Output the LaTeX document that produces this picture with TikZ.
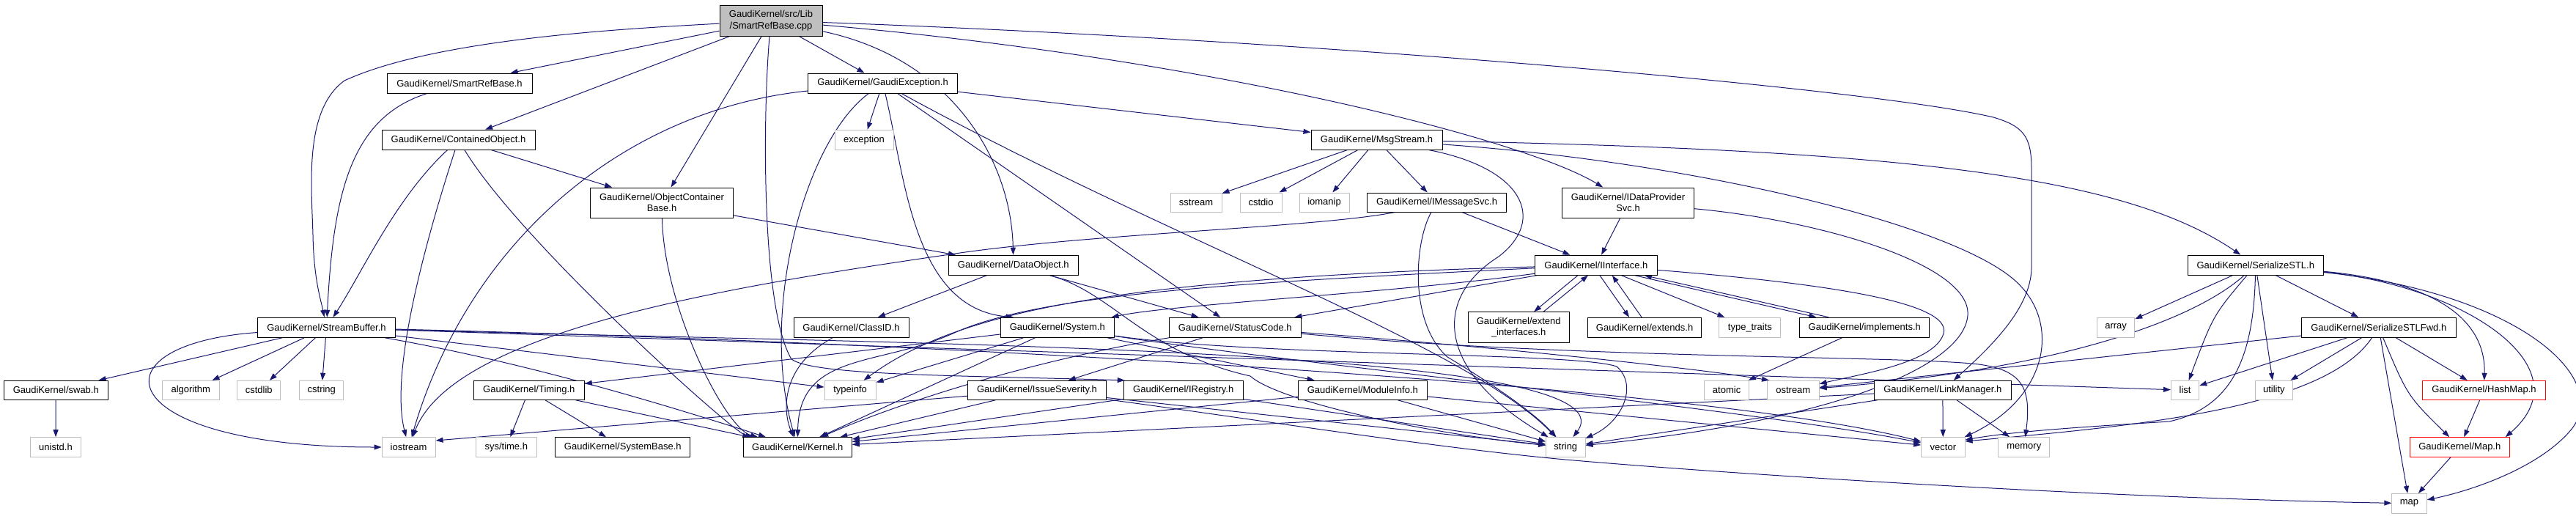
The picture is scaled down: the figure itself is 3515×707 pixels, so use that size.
\documentclass[tikz,border=0pt]{standalone}
\usepackage{fontspec}
\setmainfont{Liberation Sans}
\usetikzlibrary{arrows.meta}
\definecolor{edgec}{HTML}{191970}
\definecolor{extc}{HTML}{BFBFBF}
\pgfdeclarelayer{bg}
\pgfsetlayers{bg,main}
\begin{document}
\begin{tikzpicture}[x=1pt,y=-1pt,
  nd/.style={draw=black,fill=white,line width=1pt,inner sep=0pt,font=\fontsize{13}{15.5}\selectfont,align=center},
  extn/.style={nd,draw=extc},
  redn/.style={nd,draw=red},
  conn/.style={draw=edgec,line width=1pt,-{Triangle[length=10pt,width=7pt]}}]
\useasboundingbox (0,0) rectangle (3515,707);
% ---------------- nodes ----------------
\node[nd,fill=extc,minimum width=140pt,minimum height=42pt] (root) at (1052,28) {GaudiKernel/src/Lib\\/SmartRefBase.cpp};
\node[nd,minimum width=198pt,minimum height=27pt] (srb) at (627,113.5) {GaudiKernel/SmartRefBase.h};
\node[nd,minimum width=204pt,minimum height=27pt] (ge) at (1204.5,113.5) {GaudiKernel/GaudiException.h};
\node[nd,minimum width=209pt,minimum height=27pt] (co) at (625.5,190.7) {GaudiKernel/ContainedObject.h};
\node[extn,minimum width=80pt,minimum height=27pt] (exc) at (1179,190.7) {exception};
\node[nd,minimum width=179pt,minimum height=27pt] (ms) at (1878.5,190.7) {GaudiKernel/MsgStream.h};
\node[nd,minimum width=195pt,minimum height=41pt] (ocb) at (903,276.5) {GaudiKernel/ObjectContainer\\Base.h};
\node[extn,minimum width=70pt,minimum height=26pt] (sst) at (1632,276) {sstream};
\node[extn,minimum width=57pt,minimum height=26pt] (cstdio) at (1720.5,276) {cstdio};
\node[extn,minimum width=68pt,minimum height=26pt] (ioman) at (1807,276) {iomanip};
\node[nd,minimum width=190pt,minimum height=26pt] (ims) at (1960.6,276) {GaudiKernel/IMessageSvc.h};
\node[nd,minimum width=180pt,minimum height=41pt] (idp) at (2221.5,276.5) {GaudiKernel/IDataProvider\\Svc.h};
\node[nd,minimum width=177pt,minimum height=27pt] (dobj) at (1382.8,361.7) {GaudiKernel/DataObject.h};
\node[nd,minimum width=166.5pt,minimum height=27pt] (ii) at (2177.9,361.7) {GaudiKernel/IInterface.h};
\node[nd,minimum width=185pt,minimum height=27pt] (stl) at (3077.8,361.7) {GaudiKernel/SerializeSTL.h};
\node[nd,minimum width=188pt,minimum height=27pt] (sb) at (445.5,446.8) {GaudiKernel/StreamBuffer.h};
\node[nd,minimum width=157pt,minimum height=27pt] (cid) at (1161.5,446.8) {GaudiKernel/ClassID.h};
\node[nd,minimum width=154.4pt,minimum height=27pt] (sys) at (1442.8,446.8) {GaudiKernel/System.h};
\node[nd,minimum width=180pt,minimum height=27pt] (sc) at (1685.3,446.8) {GaudiKernel/StatusCode.h};
\node[nd,minimum width=137.7pt,minimum height=42.3pt] (ei) at (2072.2,446.8) {GaudiKernel/extend\\\_interfaces.h};
\node[nd,minimum width=155.5pt,minimum height=27pt] (extd) at (2244.1,446.8) {GaudiKernel/extends.h};
\node[extn,minimum width=84pt,minimum height=27pt] (tt) at (2387.9,446.8) {type\_traits};
\node[nd,minimum width=177pt,minimum height=27pt] (impl) at (2544.3,446.8) {GaudiKernel/implements.h};
\node[extn,minimum width=51.4pt,minimum height=27pt] (arr) at (2887.1,446.8) {array};
\node[nd,minimum width=210.7pt,minimum height=27pt] (fwd) at (3245.8,446.8) {GaudiKernel/SerializeSTLFwd.h};
\node[nd,minimum width=142.3pt,minimum height=26pt] (swab) at (76.3,532.3) {GaudiKernel/swab.h};
\node[extn,minimum width=77.4pt,minimum height=26pt] (alg) at (260.3,532.3) {algorithm};
\node[extn,minimum width=59.2pt,minimum height=26pt] (cstdlib) at (353.3,532.3) {cstdlib};
\node[extn,minimum width=60.3pt,minimum height=26pt] (cstring) at (438.8,532.3) {cstring};
\node[nd,minimum width=151pt,minimum height=26pt] (tim) at (721.8,532.3) {GaudiKernel/Timing.h};
\node[extn,minimum width=70pt,minimum height=26pt] (tinfo) at (1160.1,532.3) {typeinfo};
\node[nd,minimum width=189.5pt,minimum height=26pt] (isev) at (1415,532.3) {GaudiKernel/IssueSeverity.h};
\node[nd,minimum width=163pt,minimum height=26pt] (ireg) at (1614.7,532.3) {GaudiKernel/IRegistry.h};
\node[nd,minimum width=175.6pt,minimum height=26pt] (modi) at (1859.3,532.3) {GaudiKernel/ModuleInfo.h};
\node[extn,minimum width=61.4pt,minimum height=26pt] (atom) at (2356.1,532.3) {atomic};
\node[extn,minimum width=70.6pt,minimum height=26pt] (ost) at (2446.8,532.3) {ostream};
\node[nd,minimum width=187pt,minimum height=26pt] (lm) at (2650.8,532.3) {GaudiKernel/LinkManager.h};
\node[extn,minimum width=38.2pt,minimum height=26pt] (lst) at (2981.6,532.3) {list};
\node[extn,minimum width=51.4pt,minimum height=26pt] (util) at (3102.9,532.3) {utility};
\node[redn,minimum width=167.8pt,minimum height=26pt] (hm) at (3389.4,532.3) {GaudiKernel/HashMap.h};
\node[extn,minimum width=69.5pt,minimum height=26.6pt] (unistd) at (76,610) {unistd.h};
\node[extn,minimum width=73pt,minimum height=26.6pt] (ios) at (557.6,610) {iostream};
\node[extn,minimum width=83.3pt,minimum height=26.6pt] (systime) at (690.8,610) {sys/time.h};
\node[nd,minimum width=184.3pt,minimum height=26.6pt] (sysb) at (849.8,610) {GaudiKernel/SystemBase.h};
\node[nd,minimum width=148pt,minimum height=26.6pt] (kern) at (1088.3,610) {GaudiKernel/Kernel.h};
\node[extn,minimum width=53.4pt,minimum height=26.6pt] (str) at (2136.3,610) {string};
\node[extn,minimum width=59.4pt,minimum height=26.6pt] (vec) at (2651.4,610) {vector};
\node[extn,minimum width=70.2pt,minimum height=26.6pt] (mem) at (2761.8,610) {memory};
\node[redn,minimum width=135.8pt,minimum height=26.6pt] (mapr) at (3356.3,610) {GaudiKernel/Map.h};
\node[extn,minimum width=47.4pt,minimum height=26.6pt] (mapx) at (3287.5,686.7) {map};
% ---------------- edges ----------------
\begin{pgfonlayer}{bg}
% root
\draw[conn] (root) .. controls (880,38) and (600,50) .. (470,110) .. controls (415,150) and (425,250) .. (427,320) .. controls (428,380) and (438,410) .. (sb);
\draw[conn] (root) -- (srb);
\draw[conn] (root) -- (co);
\draw[conn] (root) -- (ocb);
\draw[conn] (root) -- (ge);
\draw[conn] (root) .. controls (1300,80) and (1380,220) .. (dobj);
\draw[conn] (root) .. controls (1041,150) and (1038,420) .. (1080,490) .. controls (1110,512) and (1300,512) .. ([xshift=2pt]ireg.north west);
\draw[conn] (root) .. controls (1650,80) and (2080,190) .. (idp);
\draw[conn] (root) .. controls (1800,55) and (2550,120) .. (2720,160) .. controls (2760,172) and (2772,185) .. (2772,230) -- (2772,367) .. controls (2770,420) and (2720,470) .. (lm);
% SmartRefBase / ContainedObject / ObjectContainerBase
\draw[conn] (srb) .. controls (480,160) and (455,260) .. (sb);
\draw[conn] (co) .. controls (540,270) and (495,370) .. (sb);
\draw[conn] (co) .. controls (590,300) and (530,500) .. (ios);
\draw[conn] (co) .. controls (710,330) and (1000,590) .. (kern);
\draw[conn] (co) -- (ocb);
\draw[conn] (ocb) -- (dobj);
\draw[conn] (ocb) .. controls (906,420) and (990,585) .. (kern);
% GaudiException
\draw[conn] (ge) .. controls (850,150) and (640,330) .. (ios);
\draw[conn] (ge) .. controls (1100,190) and (1035,420) .. (kern);
\draw[conn] (ge) -- (exc);
\draw[conn] (ge) .. controls (1235,240) and (1245,420) .. ([xshift=-60pt]sys.north);
\draw[conn] (ge) -- (sc);
\draw[conn] (ge) .. controls (1600,330) and (2000,470) .. (str);
\draw[conn] (ge) -- (ms);
% MsgStream
\draw[conn] (ms) -- (sst);
\draw[conn] (ms) -- (cstdio);
\draw[conn] (ms) -- (ioman);
\draw[conn] (ms) -- (ims);
\draw[conn] (ms) .. controls (2080,230) and (2110,300) .. (2045,350) .. controls (1950,410) and (1965,510) .. (str);
\draw[conn] (ms) .. controls (2600,205) and (2900,240) .. (stl);
\draw[conn] (ms) .. controls (2300,220) and (2640,300) .. (2740,375) .. controls (2815,430) and (2800,540) .. (vec);
% IMessageSvc / IDataProviderSvc
\draw[conn] (ims) -- (ii);
\draw[conn] ([xshift=-57pt]ims.south) .. controls (1800,310) and (1500,318) .. (1310,345) .. controls (1000,390) and (620,450) .. (ios);
\draw[conn] (ims) .. controls (1930,330) and (1922,440) .. (1975,487) .. controls (2030,520) and (2090,560) .. (str);
\draw[conn] (idp) -- (ii);
\draw[conn] (idp) .. controls (2480,300) and (2690,360) .. (2685,430) .. controls (2680,500) and (2500,575) .. (str);
% IInterface
\draw[conn] ([xshift=-25pt]ii.south) -- ([xshift=21pt]ei.north);
\draw[conn] ([xshift=34pt]ei.north) -- ([xshift=-11pt]ii.south);
\draw[conn] ([xshift=5pt]ii.south) -- ([xshift=-21pt]extd.north);
\draw[conn] ([xshift=-4pt]extd.north) -- ([xshift=22pt]ii.south);
\draw[conn] (ii) -- (tt);
\draw[conn] ([xshift=53pt]ii.south) -- ([xshift=-66pt]impl.north);
\draw[conn] ([xshift=-49pt]impl.north) -- ([xshift=66pt]ii.south);
\draw[conn] (ii) .. controls (2470,385) and (2665,410) .. (2652,455) .. controls (2640,495) and (2540,510) .. (ost);
\draw[conn] (ii) .. controls (1900,400) and (1600,415) .. ([xshift=-4pt]sys.north east);
\draw[conn] (ii) -- (sc);
\draw[conn] (ii) .. controls (1500,380) and (1300,430) .. (tinfo);
\draw[conn] (ii) .. controls (1700,385) and (1420,400) .. (1300,455) .. controls (1200,500) and (1090,480) .. (kern);
\draw[conn] (impl) -- (atom);
% StreamBuffer
\draw[conn] (sb) .. controls (120,470) and (150,610) .. (ios);
\draw[conn] (sb) -- (swab);
\draw[conn] (sb) -- (alg);
\draw[conn] (sb) -- (cstdlib);
\draw[conn] (sb) -- (cstring);
\draw[conn] (sb) -- (tinfo);
\draw[conn] (sb) .. controls (720,495) and (900,550) .. (kern);
\draw[conn] (sb) .. controls (1200,470) and (2240,470) .. (str);
\draw[conn] (sb) .. controls (1200,465) and (2300,520) .. (vec);
\draw[conn] (sb) -- (lst);
\draw[conn] (swab) -- (unistd);
% Timing / System
\draw[conn] (tim) -- (systime);
\draw[conn] (tim) -- (sysb);
\draw[conn] (tim) -- (kern);
\draw[conn] (sys) -- (tim);
\draw[conn] (sys) -- (tinfo);
\draw[conn] (sys) -- (kern);
\draw[conn] (sys) -- (modi);
\draw[conn] (sys) .. controls (1720,487) and (2150,480) .. (2206,500) .. controls (2235,525) and (2215,575) .. (str);
\draw[conn] (sys) .. controls (1800,500) and (2400,560) .. (vec);
% DataObject / ClassID / StatusCode
\draw[conn] (dobj) -- (cid);
\draw[conn] (dobj) -- (sc);
\draw[conn] (dobj) .. controls (1520,400) and (1560,480) .. (1706,513) .. controls (1745,548) and (1950,592) .. (str);
\draw[conn] (cid) .. controls (1065,500) and (1068,560) .. (kern);
\draw[conn] (sc) -- (isev);
\draw[conn] (sc.south west) .. controls (1430,488) and (1250,540) .. (kern);
\draw[conn] (sc) .. controls (2000,470) and (2300,500) .. ([xshift=3pt]ost.north west);
\draw[conn] (sc) .. controls (2150,490) and (2600,485) .. (2700,497) .. controls (2760,505) and (2772,530) .. (mem);
% IssueSeverity / IRegistry / ModuleInfo / LinkManager
\draw[conn] (isev) -- (kern);
\draw[conn] (isev) -- ([yshift=9pt]ios.east);
\draw[conn] (isev) -- (str);
\draw[conn] (isev) .. controls (1700,570) and (1950,610) .. (2136,627) .. controls (2400,650) and (2900,680) .. (mapx);
\draw[conn] (ireg) -- (kern);
\draw[conn] (ireg) -- (str);
\draw[conn] (modi) -- (kern);
\draw[conn] (modi) -- (str);
\draw[conn] (modi) -- (vec);
\draw[conn] (lm) -- (vec);
\draw[conn] (lm) -- (mem);
\draw[conn] (lm) -- (str);
\draw[conn] (lm) -- (kern);
% SerializeSTL
\draw[conn] (stl) -- (arr);
\draw[conn] (stl) -- (fwd);
\draw[conn] (stl) .. controls (3020,430) .. (lst);
\draw[conn] (stl) -- (util);
\draw[conn] (stl) .. controls (2990,440) and (2800,505) .. (ost);
\draw[conn] (stl) .. controls (3075,480) and (3050,555) .. (2960,575) .. controls (2850,582) and (2750,588) .. ([yshift=10pt]vec.east);
\draw[conn] (stl) .. controls (3330,385) and (3392,440) .. (hm);
\draw[conn] (stl) .. controls (3360,390) and (3530,500) .. ([xshift=-6pt]mapr.north east);
\draw[conn] (stl) .. controls (3440,400) and (3570,520) .. (3505,590) .. controls (3460,640) and (3370,670) .. (mapx);
\draw[conn] (fwd) -- (lst);
\draw[conn] (fwd) -- (util);
\draw[conn] (fwd) -- (mapx);
\draw[conn] (fwd) .. controls (3285,540) .. (mapr);
\draw[conn] (fwd) -- (hm);
\draw[conn] (fwd) .. controls (3170,560) and (2900,582) .. ([yshift=8pt]vec.east);
\draw[conn] (fwd) -- (ost);
\draw[conn] (hm) -- (mapr);
\draw[conn] (mapr) -- (mapx);
\end{pgfonlayer}
\end{tikzpicture}
\end{document}
